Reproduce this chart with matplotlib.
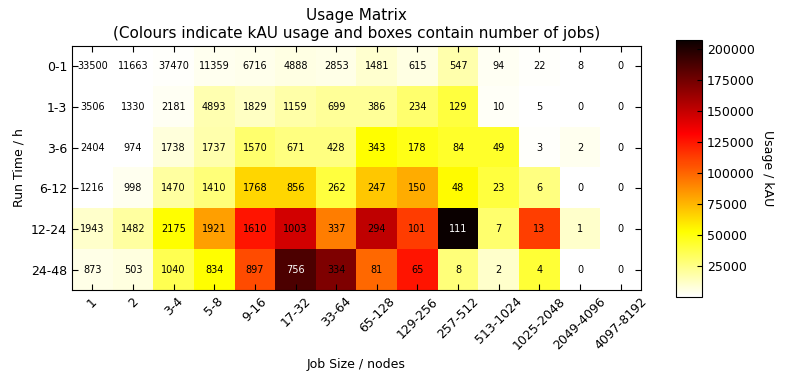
import numpy as np
import matplotlib
matplotlib.use("Agg")
import matplotlib.pyplot as plt

# Labels
run_times = ["0-1", "1-3", "3-6", "6-12", "12-24", "24-48"]
job_sizes = ["1", "2", "3-4", "5-8", "9-16", "17-32", "33-64", "65-128",
             "129-256", "257-512", "513-1024", "1025-2048", "2049-4096", "4097-8192"]

# Number of jobs per box
jobs_0_1 = [33500, 11663, 37470, 11359, 6716, 4888, 2853, 1481, 615, 547, 94, 22, 8, 0]
jobs_1_3 = [3506, 1330, 2181, 4893, 1829, 1159, 699, 386, 234, 129, 10, 5, 0, 0]
jobs_3_6 = [2404, 974, 1738, 1737, 1570, 671, 428, 343, 178, 84, 49, 3, 2, 0]
jobs_6_12 = [1216, 998, 1470, 1410, 1768, 856, 262, 247, 150, 48, 23, 6, 0, 0]
jobs_12_24 = [1943, 1482, 2175, 1921, 1610, 1003, 337, 294, 101, 111, 7, 13, 1, 0]
jobs_24_48 = [873, 503, 1040, 834, 897, 756, 334, 81, 65, 8, 2, 4, 0, 0]

# Usage (kAU) estimated from the colours
usage_0_1 = [200, 400, 1500, 4000, 4700, 6000, 5500, 10000, 6000, 17500, 3000, 1000, 400, 0]
usage_1_3 = [400, 200, 3000, 16500, 12400, 18500, 21600, 21600, 30000, 40000, 2000, 600, 0, 0]
usage_3_6 = [600, 400, 8000, 17500, 30000, 26000, 26000, 52600, 48500, 44000, 44000, 1500, 4000, 0]
usage_6_12 = [100, 4000, 19600, 28000, 65000, 65000, 40000, 70000, 78000, 54000, 40000, 26000, 0, 0]
usage_12_24 = [11000, 19600, 52600, 82000, 125000, 145000, 92700, 151000, 112800, 207000, 30000, 112000, 11000, 0]
usage_24_48 = [5000, 7000, 36000, 53000, 108000, 186000, 171000, 99000, 125000, 28000, 11000, 42000, 0, 0]

jobs = np.array([jobs_0_1, jobs_1_3, jobs_3_6, jobs_6_12, jobs_12_24, jobs_24_48])
usage = np.array([usage_0_1, usage_1_3, usage_3_6, usage_6_12, usage_12_24, usage_24_48])

fig = plt.figure(figsize=(7.86, 3.83), dpi=100)
ax = fig.add_axes([0.0916, 0.2428, 0.7239, 0.6371])
cax = fig.add_axes([0.860, 0.2245, 0.033, 0.671])

im = ax.imshow(usage, cmap="hot_r", aspect="auto", interpolation="nearest",
               vmin=0, vmax=usage.max())

for i in range(jobs.shape[0]):
    for j in range(jobs.shape[1]):
        col = "white" if usage[i, j] > 0.85 * usage.max() else "black"
        ax.text(j, i, str(jobs[i, j]), ha="center", va="center", fontsize=7, color=col)

ax.set_xticks(range(len(job_sizes)))
ax.set_xticklabels(job_sizes, rotation=45, fontsize=9)
ax.set_yticks(range(len(run_times)))
ax.set_yticklabels(run_times, fontsize=9)
ax.tick_params(direction="in", top=True, right=True, length=4)
ax.set_xlabel("Job Size / nodes", fontsize=9, labelpad=4)
ax.set_ylabel("Run Time / h", fontsize=9)
ax.set_title("Usage Matrix\n(Colours indicate kAU usage and boxes contain number of jobs)",
             fontsize=11)

cb = fig.colorbar(im, cax=cax, ticks=[25000, 50000, 75000, 100000, 125000, 150000, 175000, 200000])
cb.ax.tick_params(labelsize=9, direction="in")
cb.set_label("Usage / kAU", rotation=270, fontsize=9, labelpad=14)

fig.savefig("out.png", dpi=100)
